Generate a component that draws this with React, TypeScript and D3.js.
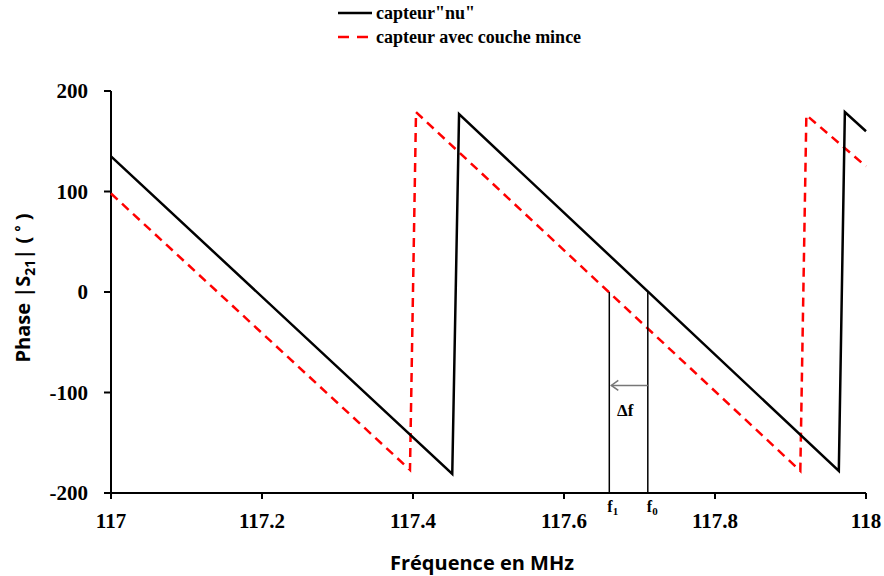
import React from "react";
import * as d3 from "d3";

const blackFreq = [117, 117.452, 117.461, 117.964, 117.972, 118];
const blackPhase = [135, -181, 177, -178, 179, 160];
const redFreq = [117, 117.396, 117.404, 117.913, 117.921, 118];
const redPhase = [98, -177, 179, -178, 176, 125];
const xTicks = [117, 117.2, 117.4, 117.6, 117.8, 118];
const yTicks = [200, 100, 0, -100, -200];
const legendLabels = ['capteur"nu"', "capteur avec couche mince"];
const f0 = 117.711;
const f1 = 117.66;
const arrowPhase = -93;

const W = 884;
const H = 576;
const M = { left: 111, right: 866, top: 91, bottom: 493 };

export default function App() {
  const x = d3.scaleLinear().domain([117, 118]).range([M.left, M.right]);
  const y = d3.scaleLinear().domain([-200, 200]).range([M.bottom, M.top]);
  const line = d3
    .line<[number, number]>()
    .x((d) => x(d[0]))
    .y((d) => y(d[1]));
  const black = line(blackFreq.map((f, i) => [f, blackPhase[i]] as [number, number])) || "";
  const red = line(redFreq.map((f, i) => [f, redPhase[i]] as [number, number])) || "";
  const serif = "'Liberation Serif', 'Times New Roman', serif";
  const sans = "'Open Sans', 'Noto Sans', sans-serif";
  const ay = y(arrowPhase);
  return (
    <svg
      width={W}
      height={H}
      style={{ position: "absolute", left: 0, top: 0, background: "#fff" }}
    >
      {/* legend */}
      <line x1={338} x2={372} y1={13} y2={13} stroke="#000" strokeWidth={2.5} />
      <text x={376} y={19} fontFamily={serif} fontWeight="bold" fontSize={18}>
        {legendLabels[0]}
      </text>
      <line
        x1={338}
        x2={372}
        y1={37}
        y2={37}
        stroke="#ff0000"
        strokeWidth={2.5}
        strokeDasharray="11,8"
      />
      <text x={376} y={43} fontFamily={serif} fontWeight="bold" fontSize={18}>
        {legendLabels[1]}
      </text>

      {/* axes */}
      <line x1={M.left} x2={M.left} y1={M.top} y2={M.bottom + 6} stroke="#000" strokeWidth={2} />
      <line x1={M.left} x2={M.right} y1={M.bottom} y2={M.bottom} stroke="#000" strokeWidth={2} />
      {yTicks.map((t) => (
        <g key={"y" + t}>
          <line x1={M.left - 7} x2={M.left} y1={y(t)} y2={y(t)} stroke="#000" strokeWidth={2} />
          <text
            x={88}
            y={y(t)}
            dy="0.35em"
            textAnchor="end"
            fontFamily={serif}
            fontWeight="bold"
            fontSize={21}
          >
            {t}
          </text>
        </g>
      ))}
      {xTicks.map((t) => (
        <g key={"x" + t}>
          <line x1={x(t)} x2={x(t)} y1={M.bottom} y2={M.bottom + 6} stroke="#000" strokeWidth={2} />
          <text
            x={x(t)}
            y={528}
            textAnchor="middle"
            fontFamily={serif}
            fontWeight="bold"
            fontSize={21}
          >
            {t}
          </text>
        </g>
      ))}

      {/* axis titles */}
      <text
        x={482}
        y={570}
        textAnchor="middle"
        fontFamily={sans}
        fontWeight="bold"
        fontSize={20}
      >
        Fréquence en MHz
      </text>
      <text
        transform="translate(30,288) rotate(-90)"
        textAnchor="middle"
        fontFamily={sans}
        fontWeight="bold"
        fontSize={20}
      >
        Phase |S
        <tspan fontSize={14} dy={5}>21</tspan>
        <tspan dy={-5}>| ( </tspan>
        <tspan fontSize={14} dy={-4}>°</tspan>
        <tspan dy={4}> )</tspan>
      </text>

      {/* series */}
      <path d={red} fill="none" stroke="#ff0000" strokeWidth={2.5} strokeDasharray="9,6" />
      <path d={black} fill="none" stroke="#000" strokeWidth={2.5} />

      {/* annotation */}
      <line x1={x(f1)} x2={x(f1)} y1={y(0)} y2={M.bottom} stroke="#000" strokeWidth={1.5} />
      <line x1={x(f0)} x2={x(f0)} y1={y(0)} y2={M.bottom} stroke="#000" strokeWidth={1.5} />
      <line x1={x(f0)} x2={x(f1) + 2} y1={ay} y2={ay} stroke="#777" strokeWidth={1.5} />
      <polyline
        points={`${x(f1) + 9},${ay - 5} ${x(f1) + 2},${ay} ${x(f1) + 9},${ay + 5}`}
        fill="none"
        stroke="#777"
        strokeWidth={1.5}
      />
      <text x={617} y={416} fontFamily={serif} fontWeight="bold" fontSize={17}>
        Δf
      </text>
      <text x={x(f1) - 2} y={512} fontFamily={serif} fontWeight="bold" fontSize={16}>
        f<tspan fontSize={11} dy={3}>1</tspan>
      </text>
      <text x={x(f0) - 1} y={512} fontFamily={serif} fontWeight="bold" fontSize={16}>
        f<tspan fontSize={11} dy={3}>0</tspan>
      </text>
    </svg>
  );
}
